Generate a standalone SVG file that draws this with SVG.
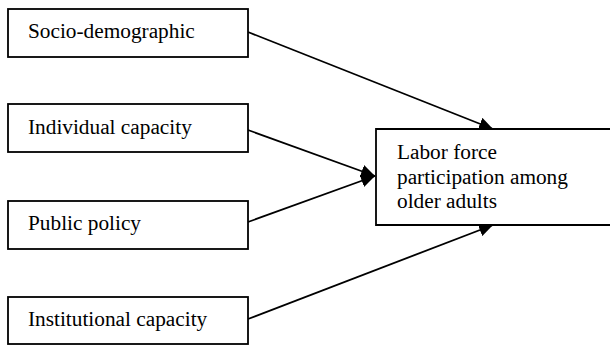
<svg xmlns="http://www.w3.org/2000/svg" width="610" height="347" viewBox="0 0 610 347">
<style>
.box{fill:#fff;stroke:#000;stroke-width:1.8}
.lbl{font-family:"Liberation Serif","Times New Roman",serif;font-size:21.3px;fill:#000}
.conn{stroke:#000;stroke-width:1.8;fill:none}
</style>
<defs>
<marker id="ah" markerUnits="userSpaceOnUse" markerWidth="15" markerHeight="13" refX="14" refY="6.5" orient="auto">
<path d="M0,0 L14,6.5 L0,13 z" fill="#000"/>
</marker>
</defs>
<rect width="610" height="347" fill="#fff"/>
<g id="connectors">
<line class="conn" x1="248" y1="32" x2="493" y2="129" marker-end="url(#ah)"/>
<line class="conn" x1="248" y1="130" x2="375" y2="176" marker-end="url(#ah)"/>
<line class="conn" x1="248" y1="222" x2="375" y2="176" marker-end="url(#ah)"/>
<line class="conn" x1="248" y1="319" x2="493" y2="225" marker-end="url(#ah)"/>
</g>
<g id="socio">
<rect class="box" x="8" y="9" width="240" height="48"/>
<text class="lbl" x="28" y="38">Socio-demographic</text>
</g>
<g id="individual">
<rect class="box" x="8" y="104" width="240" height="48"/>
<text class="lbl" x="28" y="134">Individual capacity</text>
</g>
<g id="public">
<rect class="box" x="8" y="201" width="240" height="48"/>
<text class="lbl" x="28" y="230">Public policy</text>
</g>
<g id="institutional">
<rect class="box" x="8" y="297" width="240" height="47"/>
<text class="lbl" x="28" y="326">Institutional capacity</text>
</g>
<g id="outcome">
<path class="box" d="M640,129 H376 V225 H640"/>
<text class="lbl" x="397" y="159">Labor force</text>
<text class="lbl" x="397" y="184">participation among</text>
<text class="lbl" x="397" y="208">older adults</text>
</g>
</svg>
